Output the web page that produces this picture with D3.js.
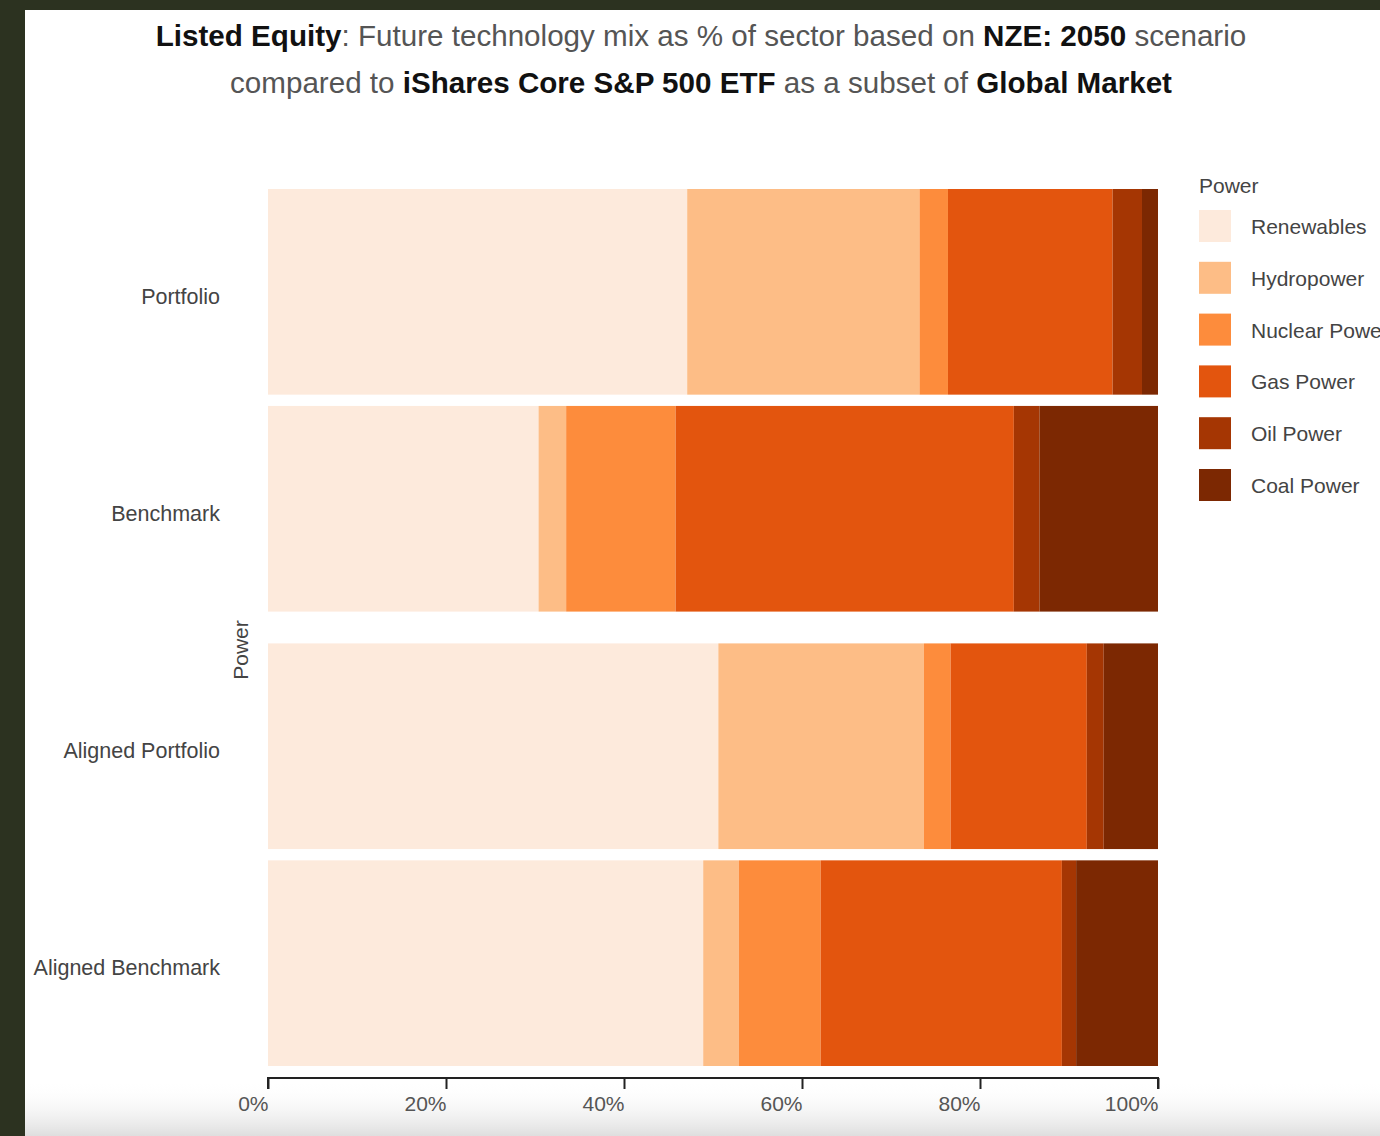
<!DOCTYPE html>
<html>
<head>
<meta charset="utf-8">
<script src="https://cdn.jsdelivr.net/npm/d3@7"></script>
<style>
  html, body { margin: 0; padding: 0; background: #2c3220; }
  svg { display: block; }
  text { font-family: "Liberation Sans", Arial, Helvetica, sans-serif; }
</style>
</head>
<body>
<svg id="chart" width="1380" height="1136"></svg>
<script>
// Portfolio groups (drawn as two pairs of bars)
const groupA = ["Portfolio", "Benchmark"];
const groupB = ["Aligned Portfolio", "Aligned Benchmark"];
const categories = groupA.concat(groupB);

// Technologies, in stacking order
const technologies = ["Renewables", "Hydropower", "Nuclear Power", "Gas Power", "Oil Power", "Coal Power"];
const techColors = ["#fdeadc", "#fdbd86", "#fd8c3c", "#e3550e", "#a53603", "#7c2802"];

// Share of sector (%) per technology, one array per bar
const portfolioMix        = [47.1, 26.1, 3.2, 18.5, 3.3, 1.8];
const benchmarkMix        = [30.4, 3.1, 12.3, 38.0, 2.9, 13.3];
const alignedPortfolioMix = [50.6, 23.1, 3.0, 15.3, 1.9, 6.1];
const alignedBenchmarkMix = [48.9, 4.0, 9.2, 27.1, 1.6, 9.2];

const xTicks = [0, 20, 40, 60, 80, 100];

const mixes = {
  "Portfolio": portfolioMix,
  "Benchmark": benchmarkMix,
  "Aligned Portfolio": alignedPortfolioMix,
  "Aligned Benchmark": alignedBenchmarkMix
};

const rows = categories.map(c => {
  const r = { category: c };
  technologies.forEach((t, i) => r[t] = mixes[c][i]);
  return r;
});

const svg = d3.select("#chart");
const W = 1380, H = 1136;

// page panel with a soft gray fade at the bottom
const defs = svg.append("defs");
const fade = defs.append("linearGradient").attr("id", "bottomFade")
  .attr("x1", 0).attr("y1", 0).attr("x2", 0).attr("y2", 1);
fade.append("stop").attr("offset", "0%").attr("stop-color", "#ffffff").attr("stop-opacity", 0);
fade.append("stop").attr("offset", "100%").attr("stop-color", "#dedede").attr("stop-opacity", 1);

svg.append("rect").attr("x", 25).attr("y", 10).attr("width", W - 25).attr("height", H - 10).attr("fill", "#ffffff");
svg.append("rect").attr("x", 25).attr("y", 1080).attr("width", W - 25).attr("height", H - 1080).attr("fill", "url(#bottomFade)");

// title
const title = svg.append("g").attr("font-size", 29.6).attr("text-anchor", "middle").attr("fill", "#555");
const t1 = title.append("text").attr("x", 701).attr("y", 46);
t1.append("tspan").attr("font-weight", "bold").attr("fill", "#111").text("Listed Equity");
t1.append("tspan").text(": Future technology mix as % of sector based on ");
t1.append("tspan").attr("font-weight", "bold").attr("fill", "#111").text("NZE: 2050");
t1.append("tspan").text(" scenario");
const t2 = title.append("text").attr("x", 701).attr("y", 93);
t2.append("tspan").text("compared to ");
t2.append("tspan").attr("font-weight", "bold").attr("fill", "#111").text("iShares Core S&P 500 ETF");
t2.append("tspan").text(" as a subset of ");
t2.append("tspan").attr("font-weight", "bold").attr("fill", "#111").text("Global Market");

// scales
const plotLeft = 268, plotRight = 1158, plotTop = 189, plotBottom = 1066;
const x = d3.scaleLinear().domain([0, 100]).range([plotLeft, plotRight]);
const outer = d3.scaleBand().domain([0, 1]).range([plotTop, plotBottom]).paddingInner(0.07);
const inner = d3.scaleBand().domain([0, 1]).range([0, outer.bandwidth()]).paddingInner(0.052);
const yPos = c => {
  const g = groupA.includes(c) ? 0 : 1;
  const idx = (g === 0 ? groupA : groupB).indexOf(c);
  return outer(g) + inner(idx);
};
const color = d3.scaleOrdinal().domain(technologies).range(techColors);

const stacked = d3.stack().keys(technologies)(rows);

svg.append("g").selectAll("g").data(stacked).join("g")
  .attr("fill", d => color(d.key))
  .selectAll("rect").data(d => d).join("rect")
  .attr("x", d => x(d[0]))
  .attr("width", d => x(d[1]) - x(d[0]))
  .attr("y", d => yPos(d.data.category))
  .attr("height", inner.bandwidth());

// category labels
svg.append("g").selectAll("text").data(categories).join("text")
  .attr("x", 220)
  .attr("y", c => yPos(c) + inner.bandwidth() / 2 + 12)
  .attr("text-anchor", "end")
  .attr("font-size", 21.5)
  .attr("fill", "#444")
  .text(c => c);

// y axis title
svg.append("text")
  .attr("transform", "translate(248,650) rotate(-90)")
  .attr("text-anchor", "middle")
  .attr("font-size", 21)
  .attr("fill", "#444")
  .text("Power");

// x axis
const xAxis = d3.axisBottom(x).tickValues(xTicks).tickFormat(d => d + "%").tickSize(11).tickPadding(7);
const ax = svg.append("g").attr("transform", "translate(0,1078)").call(xAxis);
ax.select(".domain").attr("stroke", "#222").attr("stroke-width", 2).attr("d", `M${plotLeft},11V0H${plotRight}V11`);
ax.selectAll(".tick line").attr("stroke", "#222").attr("stroke-width", 2);
ax.selectAll(".tick text")
  .attr("font-size", 21).attr("fill", "#555").attr("text-anchor", "end")
  .attr("font-family", "\"Liberation Sans\", Arial, sans-serif");

// legend
const legend = svg.append("g").attr("transform", "translate(1199,0)");
legend.append("text").attr("x", 0).attr("y", 193).attr("font-size", 21).attr("fill", "#444").text("Power");
const items = legend.selectAll("g.item").data(technologies).join("g")
  .attr("class", "item")
  .attr("transform", (d, i) => `translate(0,${210 + i * 51.8})`);
items.append("rect").attr("width", 32).attr("height", 32).attr("fill", d => color(d));
items.append("text").attr("x", 52).attr("y", 24).attr("font-size", 21).attr("fill", "#444").text(d => d);
</script>
</body>
</html>
